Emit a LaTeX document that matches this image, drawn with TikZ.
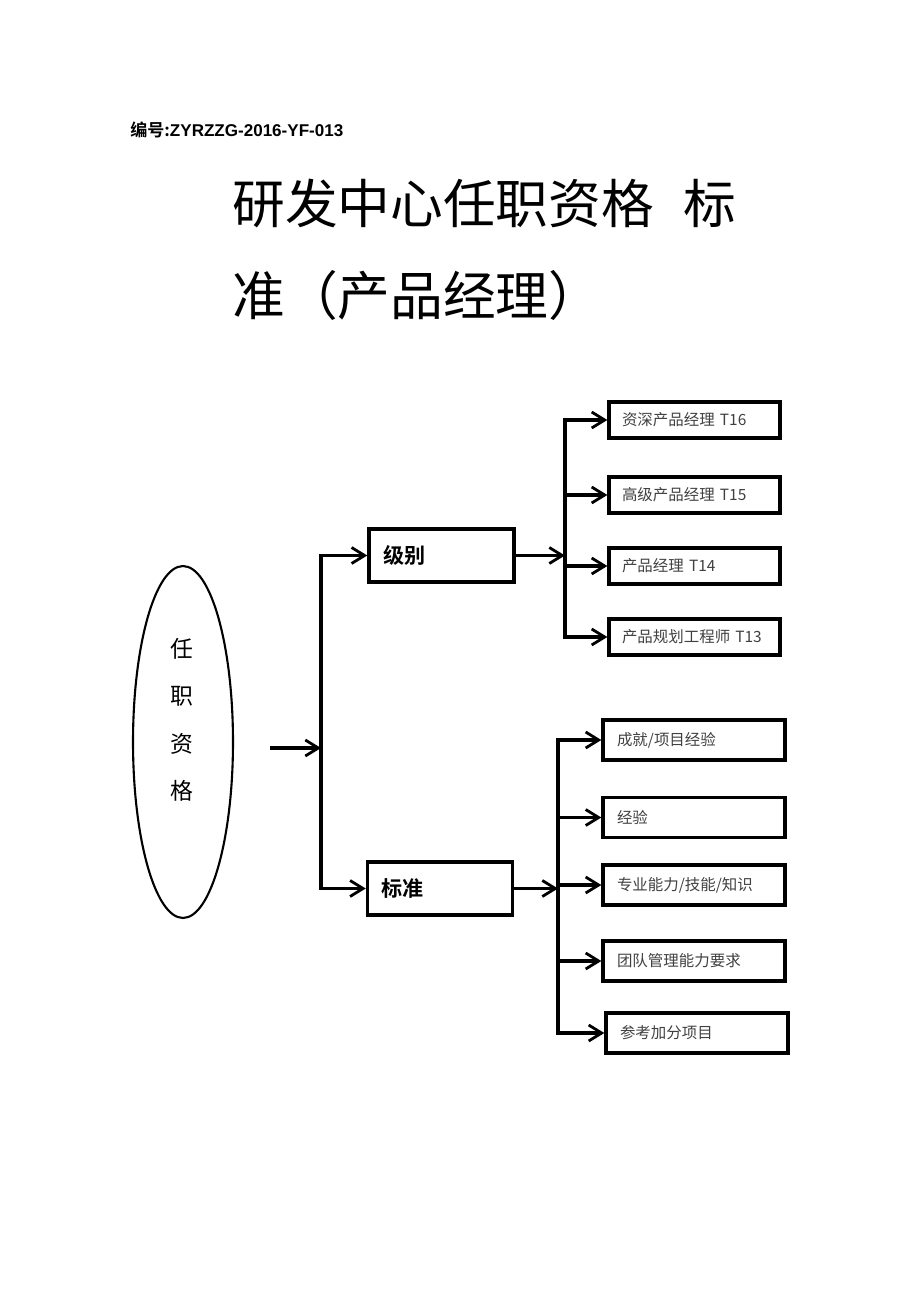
\documentclass[tikz,border=0pt]{standalone}
\usepackage{fontspec}
\usetikzlibrary{arrows.meta,shapes.geometric}
\newfontfamily\cjk{Noto Sans CJK SC}[BoldFont=Noto Sans CJK SC Bold]
\newfontfamily\arial{Liberation Sans}
\definecolor{boxtext}{gray}{0.25}

\begin{document}
\begin{tikzpicture}[x=0.02cm,y=-0.02cm,
    arr/.style={line width=2pt,-{Straight Barb[length=2.6mm,width=3.2mm,line width=1.6pt]}},
    bus/.style={line width=2pt,line cap=rect},
    midbox/.style={draw,line width=2pt,rectangle,text width=2.34cm,inner xsep=0.28cm,minimum height=1.06cm,align=left,font=\cjk\bfseries\fontsize{12}{14}\selectfont},
    lvlbox/.style={draw,line width=1.9pt,rectangle,text width=2.9cm,inner xsep=0.26cm,minimum height=0.72cm,align=left,text=boxtext,font=\cjk\fontsize{8.8}{11}\selectfont},
    stdbox/.style={lvlbox,text width=3.08cm,inner xsep=0.28cm,minimum height=0.8cm}]
        \useasboundingbox (0,0) rectangle (920,1301);
        % heading
        \node[anchor=west,inner sep=0,font=\bfseries\fontsize{9.7}{12}\selectfont] (docno) at (130,130) {\cjk 编号:\arial ZYRZZG-2016-YF-013};
        \node[anchor=west,inner sep=0,font=\cjk\fontsize{30}{36}\selectfont] (title1) at (232,203) {研发中心任职资格\hspace{0.55em}标};
        \node[anchor=west,inner sep=0,font=\cjk\fontsize{30}{36}\selectfont] (title2) at (232,295) {准（产品经理）};
        % root
        \node[draw,ellipse,line width=1.2pt,minimum width=2cm,minimum height=7.04cm,inner sep=0] (qual) at (183,742) {};
        \node[font=\cjk\fontsize{13}{27}\selectfont,align=center] (qualtext) at (182,720) {任\\职\\资\\格};
        % second level
        \node[midbox] (lvl) at (441.5,555.5) {级别};
        \node[midbox] (std) at (440,888.5) {标准};
        \coordinate (in) at (270,748);
        \coordinate (bus1) at (321,748);
        \draw[arr] (in) -- (bus1);
        \draw[bus] (bus1 |- lvl.west) -- (bus1 |- std.west);
        \draw[arr] (bus1 |- lvl.west) -- (lvl.west);
        \draw[arr] (bus1 |- std.west) -- (std.west);
        % levels
        \node[lvlbox] (t16) at (694.5,420) {资深产品经理 T16};
        \node[lvlbox] (t15) at (694.5,495) {高级产品经理 T15};
        \node[lvlbox] (t14) at (694.5,566) {产品经理 T14};
        \node[lvlbox] (t13) at (694.5,637) {产品规划工程师 T13};
        \coordinate (bus2) at (565,556);
        \draw[arr] (lvl.east) -- (lvl.east -| bus2);
        \draw[bus] (bus2 |- t16.west) -- (bus2 |- t13.west);
        \draw[arr] (bus2 |- t16.west) -- (t16.west);
        \draw[arr] (bus2 |- t15.west) -- (t15.west);
        \draw[arr] (bus2 |- t14.west) -- (t14.west);
        \draw[arr] (bus2 |- t13.west) -- (t13.west);
        % standards
        \node[stdbox] (s1) at (694,740) {成就/项目经验};
        \node[stdbox] (s2) at (694,817.5) {经验};
        \node[stdbox] (s3) at (694,885) {专业能力/技能/知识};
        \node[stdbox] (s4) at (694,961) {团队管理能力要求};
        \node[stdbox] (s5) at (697,1033) {参考加分项目};
        \coordinate (bus3) at (558,888);
        \draw[arr] (std.east) -- (std.east -| bus3);
        \draw[bus] (bus3 |- s1.west) -- (bus3 |- s5.west);
        \draw[arr] (bus3 |- s1.west) -- (s1.west);
        \draw[arr] (bus3 |- s2.west) -- (s2.west);
        \draw[arr] (bus3 |- s3.west) -- (s3.west);
        \draw[arr] (bus3 |- s4.west) -- (s4.west);
        \draw[arr] (bus3 |- s5.west) -- (s5.west);
    \end{tikzpicture}
\end{document}
